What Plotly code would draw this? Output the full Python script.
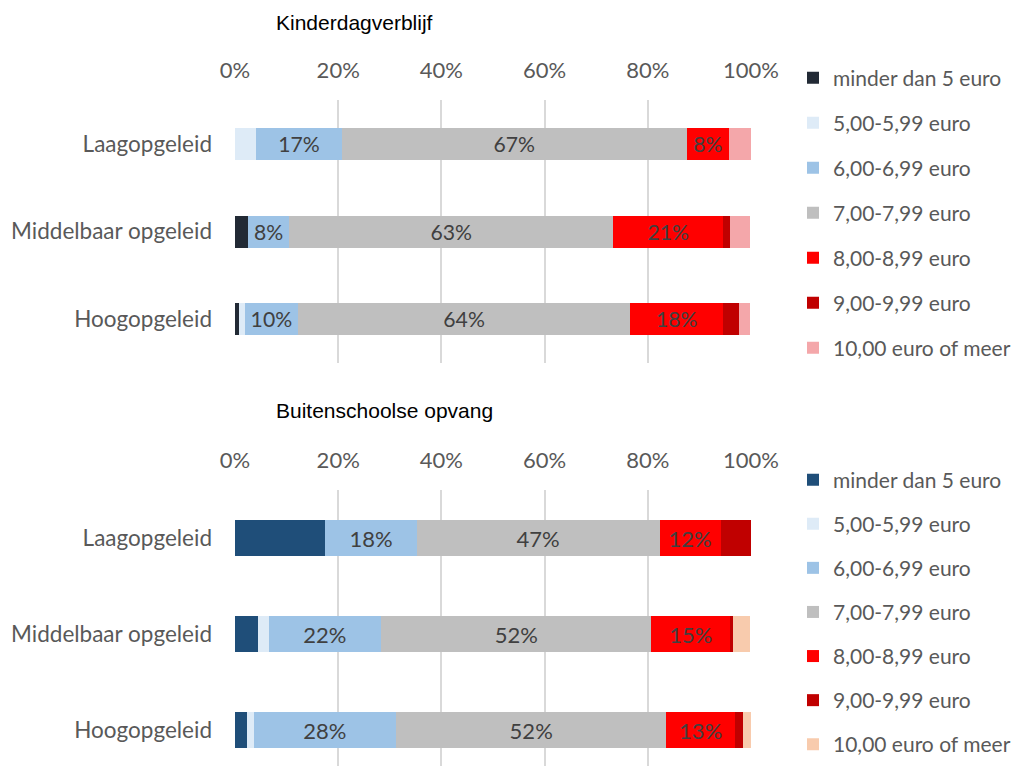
import plotly.graph_objects as go

# Aandeel per uurtarief (%)
opleiding = ["Laagopgeleid", "Middelbaar opgeleid", "Hoogopgeleid"]
tarieven = ["minder dan 5 euro", "5,00-5,99 euro", "6,00-6,99 euro", "7,00-7,99 euro",
            "8,00-8,99 euro", "9,00-9,99 euro", "10,00 euro of meer"]
x_ticks = [0, 20, 40, 60, 80, 100]
x_ticklabels = ["0%", "20%", "40%", "60%", "80%", "100%"]

# Kinderdagverblijf
kdv_minder5 = [0.0, 2.5, 0.7]
kdv_5 = [4.1, 0.0, 1.2]
kdv_6 = [16.6, 8.0, 10.3]
kdv_7 = [66.8, 62.8, 64.4]
kdv_8 = [8.3, 21.3, 18.0]
kdv_9 = [0.0, 1.3, 3.1]
kdv_10 = [4.2, 4.0, 2.2]

# Buitenschoolse opvang
bso_minder5 = [17.5, 4.4, 2.3]
bso_5 = [0.0, 2.1, 1.3]
bso_6 = [17.7, 21.8, 27.6]
bso_7 = [47.1, 52.4, 52.4]
bso_8 = [11.8, 15.3, 13.3]
bso_9 = [5.9, 0.6, 1.6]
bso_10 = [0.0, 3.3, 1.5]

kdv = [kdv_minder5, kdv_5, kdv_6, kdv_7, kdv_8, kdv_9, kdv_10]
bso = [bso_minder5, bso_5, bso_6, bso_7, bso_8, bso_9, bso_10]

kleuren_kdv = ["#222A35", "#DEEBF7", "#9DC3E6", "#BFBFBF", "#FF0000", "#C00000", "#F4A7AA"]
kleuren_bso = ["#1F4E79", "#DEEBF7", "#9DC3E6", "#BFBFBF", "#FF0000", "#C00000", "#F8CBAD"]
met_label = [False, False, True, True, True, False, False]

FONT = "Lato, Calibri, sans-serif"
TXT = "#595959"

fig = go.Figure()

for i, naam in enumerate(tarieven):
    fig.add_trace(go.Bar(
        y=opleiding, x=kdv[i], name=naam, orientation="h",
        marker=dict(color=kleuren_kdv[i], line=dict(width=0)),
        texttemplate="%{x:.0f}%" if met_label[i] else "",
        textposition="inside", insidetextanchor="middle", textangle=0,
        textfont=dict(family=FONT, size=22, color="#404040"),
        xaxis="x", yaxis="y", legend="legend", legendgroup="k" + str(i),
        hoverinfo="skip",
    ))

for i, naam in enumerate(tarieven):
    fig.add_trace(go.Bar(
        y=opleiding, x=bso[i], name=naam, orientation="h",
        marker=dict(color=kleuren_bso[i], line=dict(width=0)),
        texttemplate="%{x:.0f}%" if met_label[i] else "",
        textposition="inside", insidetextanchor="middle", textangle=0,
        textfont=dict(family=FONT, size=22, color="#404040"),
        xaxis="x2", yaxis="y2", legend="legend2", legendgroup="b" + str(i),
        hoverinfo="skip",
    ))

# pagina heeft 8px marge rondom: figuur past precies in het venster
W, H = 1009, 758
x0, x1 = 227 / W, 743 / W

xas = dict(range=[0, 100], tickvals=x_ticks, ticktext=x_ticklabels,
           side="top", showgrid=True, gridcolor="#D9D9D9", gridwidth=2,
           zeroline=False, showline=False, ticks="", ticklabelstandoff=17,
           tickfont=dict(family=FONT, size=22, color=TXT), domain=[x0, x1],
           fixedrange=True, automargin=False)
yas = dict(showgrid=False, zeroline=False, showline=False,
           ticks="", ticklabelstandoff=22,
           tickfont=dict(family=FONT, size=22.5, color=TXT), fixedrange=True,
           automargin=False)

leg = dict(font=dict(family=FONT, size=21, color=TXT), traceorder="grouped",
           bgcolor="rgba(0,0,0,0)", xanchor="left", yanchor="top",
           itemclick=False, itemdoubleclick=False, itemwidth=30)

titel_font = dict(family="Liberation Sans, Arial", size=21, color="black")

fig.update_layout(
    width=W, height=H,
    margin=dict(l=0, r=0, t=0, b=0),
    paper_bgcolor="white", plot_bgcolor="white",
    barmode="stack", bargap=0.635,
    xaxis=dict(xas, anchor="y"),
    yaxis=dict(yas, domain=[1 - 355 / H, 1 - 92 / H], anchor="x", range=[2.5, -0.5]),
    xaxis2=dict(xas, anchor="y2"),
    yaxis2=dict(yas, domain=[0, 1 - 482 / H], anchor="x2", range=[2.375, -0.5]),
    legend=dict(leg, x=785 / W, y=1 - 49.5 / H, tracegroupgap=14.7),
    legend2=dict(leg, x=785 / W, y=1 - 451.5 / H, tracegroupgap=13.8),
    annotations=[
        dict(text="Kinderdagverblijf", x=266 / W, y=1 - 14 / H, xref="paper", yref="paper",
             xanchor="left", yanchor="middle", showarrow=False, font=titel_font),
        dict(text="Buitenschoolse opvang", x=266 / W, y=1 - 402 / H, xref="paper", yref="paper",
             xanchor="left", yanchor="middle", showarrow=False, font=titel_font),
    ],
)

fig.write_html("out.html")
